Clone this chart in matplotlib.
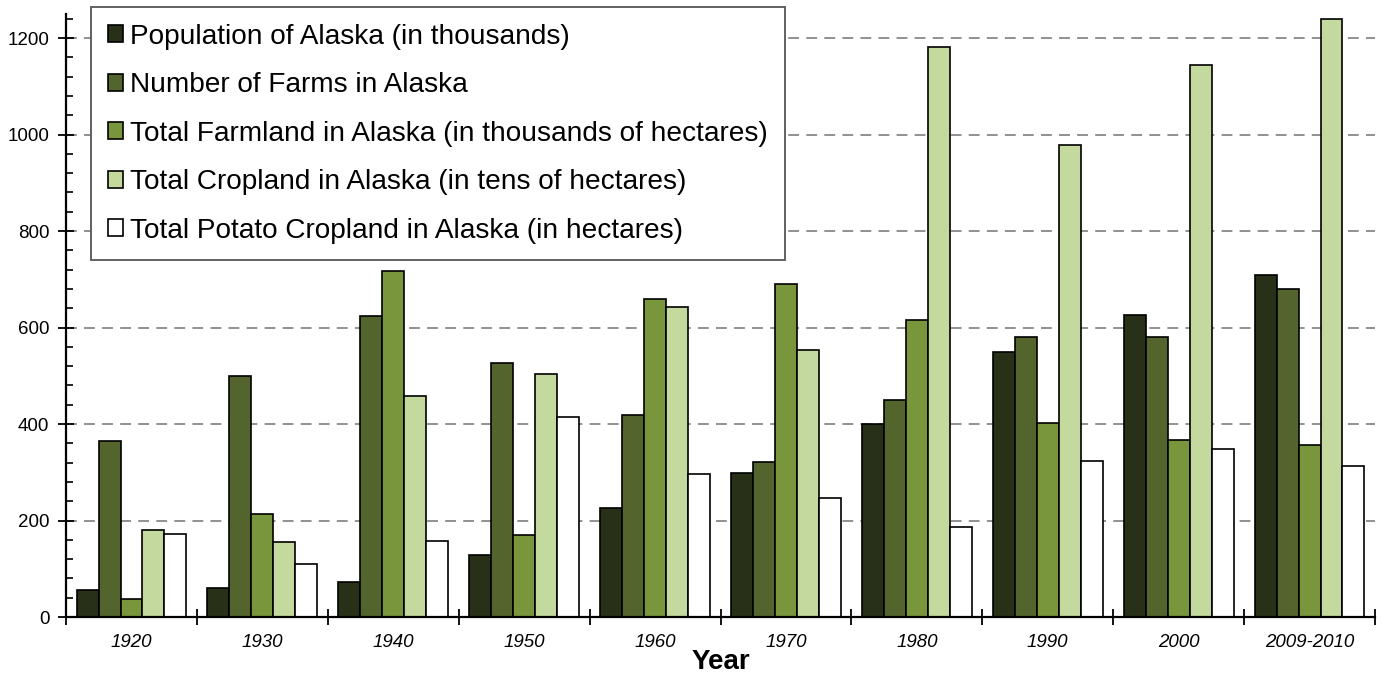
import matplotlib.pyplot as plt
from matplotlib.ticker import MultipleLocator
import numpy as np

plt.rcParams['font.family'] = ['Liberation Sans', 'DejaVu Sans']

years = ["1920", "1930", "1940", "1950", "1960", "1970", "1980", "1990", "2000", "2009-2010"]

population = [55, 61, 73, 128, 227, 299, 401, 550, 627, 710]
farms = [364, 499, 623, 526, 419, 321, 449, 580, 580, 679]
farmland = [37, 213, 718, 171, 660, 691, 615, 403, 366, 357]
cropland = [180, 155, 459, 504, 642, 553, 1181, 979, 1144, 1239]
potato = [173, 110, 158, 415, 296, 247, 187, 324, 348, 314]

labels = ["Population of Alaska (in thousands)",
          "Number of Farms in Alaska",
          "Total Farmland in Alaska (in thousands of hectares)",
          "Total Cropland in Alaska (in tens of hectares)",
          "Total Potato Cropland in Alaska (in hectares)"]
colors = ["#283018", "#53652d", "#7a963c", "#c4d99e", "#ffffff"]

series = [population, farms, farmland, cropland, potato]

fig = plt.figure(figsize=(13.82, 6.83), dpi=100)
ax = fig.add_axes([0.0478, 0.0966, 0.9471, 0.8829])

x = np.arange(len(years))
w = 0.168
for k, vals in enumerate(series):
    ax.bar(x + (k - 2) * w, vals, w, color=colors[k], edgecolor="black",
           linewidth=1.2, label=labels[k], zorder=3)

ax.set_xlim(-0.5, len(years) - 0.5)
ax.set_ylim(0, 1250)

# gridlines
ax.yaxis.set_major_locator(MultipleLocator(200))
ax.yaxis.set_minor_locator(MultipleLocator(40))
ax.grid(axis="y", which="major", color="#888888", linestyle=(0, (6, 4)),
        linewidth=1.3, zorder=0)
ax.set_axisbelow(True)

# x ticks at category boundaries, labels centered
ax.set_xticks(np.arange(-0.5, len(years), 1.0))
ax.set_xticklabels([])
ax.set_xticks(x, minor=True)
ax.set_xticklabels(years, minor=True, fontstyle="italic", fontsize=13.5)
ax.tick_params(axis="x", which="major", direction="inout", length=12, width=1.3)
ax.tick_params(axis="x", which="minor", length=0, pad=12)

ax.tick_params(axis="y", which="major", direction="inout", length=12, width=1.3,
               labelsize=13.5, pad=6)
ax.tick_params(axis="y", which="minor", direction="in", length=5, width=1.2)

for s in ["top", "right"]:
    ax.spines[s].set_visible(False)
for s in ["left", "bottom"]:
    ax.spines[s].set_linewidth(1.6)
    ax.spines[s].set_zorder(4)

ax.set_xlabel("Year", fontsize=20, fontweight="bold", labelpad=-1)

leg = ax.legend(loc="upper left", bbox_to_anchor=(0.0658, 0.9898),
                bbox_transform=fig.transFigure, borderaxespad=0,
                fontsize=20.2, frameon=True, fancybox=False,
                edgecolor="#555555", framealpha=1, labelspacing=0.8,
                handlelength=0.55, handleheight=0.55, handletextpad=0.25,
                borderpad=0.6)
leg.get_frame().set_linewidth(1.3)
leg.set_zorder(5)

fig.savefig("out.png", dpi=100)
